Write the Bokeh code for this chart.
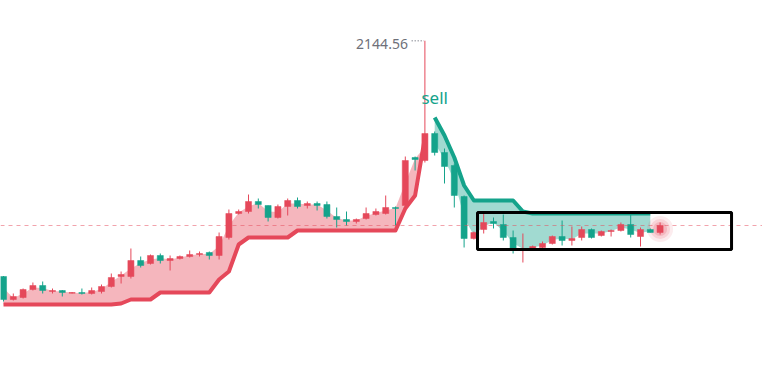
import numpy as np
from bokeh.plotting import figure
from bokeh.models import Range1d, Span, BoxAnnotation, Label
from bokeh.embed import file_html
from bokeh.resources import INLINE

# ---------------- data ----------------
opens = [1673, 1627, 1631, 1647, 1655, 1643, 1645, 1640, 1641, 1639,
         1643, 1653, 1673, 1673, 1705, 1699, 1715, 1705, 1709, 1713,
         1717, 1721, 1715, 1751, 1799, 1803, 1823, 1815, 1791, 1813,
         1825, 1815, 1819, 1817, 1793, 1787, 1783, 1789, 1797, 1799,
         1811, 1815, 1911, 1905, 1959, 1921, 1895, 1833, 1749, 1767,
         1783, 1777, 1751, 1727, 1729, 1731, 1739, 1753, 1745, 1751,
         1767, 1755, 1763, 1765, 1777, 1753, 1767, 1761]
highs = [1674, 1639, 1649, 1661, 1663, 1649, 1646, 1642, 1649, 1651,
         1657, 1679, 1683, 1729, 1713, 1717, 1719, 1715, 1715, 1725,
         1723, 1723, 1761, 1807, 1807, 1837, 1829, 1815, 1817, 1829,
         1831, 1823, 1823, 1823, 1811, 1803, 1789, 1811, 1809, 1835,
         1813, 1913, 1913, 2144.56, 1963, 1929, 1899, 1835, 1763, 1799,
         1791, 1797, 1765, 1759, 1735, 1743, 1755, 1785, 1773, 1773,
         1769, 1765, 1767, 1781, 1799, 1771, 1769, 1781]
lows = [1623, 1625, 1629, 1645, 1639, 1639, 1633, 1639, 1637, 1637,
        1639, 1651, 1659, 1669, 1691, 1697, 1699, 1685, 1707, 1711,
        1713, 1707, 1707, 1747, 1797, 1799, 1809, 1783, 1789, 1795,
        1809, 1809, 1805, 1789, 1771, 1775, 1779, 1787, 1795, 1797,
        1775, 1811, 1885, 1901, 1915, 1859, 1811, 1731, 1747, 1759,
        1769, 1745, 1719, 1701, 1727, 1729, 1737, 1735, 1735, 1745,
        1749, 1753, 1753, 1763, 1751, 1733, 1761, 1757]
closes = [1627, 1633, 1647, 1655, 1645, 1645, 1641, 1641, 1639, 1645,
          1653, 1671, 1677, 1705, 1695, 1715, 1705, 1709, 1713, 1717,
          1719, 1715, 1753, 1799, 1803, 1823, 1817, 1791, 1813, 1825,
          1813, 1819, 1815, 1793, 1787, 1783, 1787, 1799, 1803, 1811,
          1809, 1905, 1907, 1959, 1921, 1893, 1835, 1749, 1761, 1781,
          1779, 1751, 1729, 1729, 1733, 1739, 1753, 1745, 1749, 1767,
          1751, 1763, 1765, 1777, 1757, 1767, 1761, 1775]

# supertrend: uptrend (lower band) for bars 0..43, downtrend (upper band) for bars 44..66
st_up = [1617, 1617, 1617, 1617, 1617, 1617, 1617, 1617, 1617, 1617,
         1617, 1617, 1619, 1627, 1627, 1627, 1641, 1641, 1641, 1641,
         1641, 1641, 1667, 1683, 1737, 1751, 1751, 1751, 1751, 1751,
         1765, 1765, 1765, 1765, 1765, 1765, 1765, 1765, 1765, 1765,
         1765, 1809, 1835, 1951]
st_down = [1991, 1955, 1911, 1855, 1825, 1825, 1825, 1825, 1825, 1803,
           1799, 1799, 1799, 1799, 1799, 1799, 1799, 1799, 1799, 1799,
           1799, 1799, 1799]

peak_text = "2144.56"
signal_text = "sell"
last_price = 1775
# highlighted zone (bar index range and price range)
zone_left, zone_right, zone_top, zone_bottom = 48.37, 74.29, 1801, 1727

# ---------------- styling ----------------
RED = "#e5485a"
GREEN = "#14a38b"
FONT = "Noto Sans"

n = len(opens)
idx = np.arange(n)
o = np.array(opens, float)
c = np.array(closes, float)
h = np.array(highs, float)
l = np.array(lows, float)
mid = (o + c) / 2
up = c >= o
colors = [RED if u else GREEN for u in up]

p = figure(width=762, height=379, output_backend="svg", toolbar_location=None,
           x_axis_location=None, y_axis_location=None, min_border=0,
           x_range=Range1d(-3 / 9.8, (762 - 3) / 9.8),
           y_range=Range1d(1467, 2225))
p.grid.visible = False
p.outline_line_color = None
p.background_fill_color = "white"
p.border_fill_color = "white"

n_up = len(st_up)
x_up = idx[:n_up]
x_dn = idx[n_up:n_up + len(st_down)]

# fills between supertrend and candle body middle
p.varea(x=x_up, y1=st_up, y2=mid[:n_up], fill_color=RED, fill_alpha=0.4)
p.varea(x=x_dn, y1=st_down, y2=mid[n_up:n_up + len(st_down)], fill_color=GREEN, fill_alpha=0.4)

# supertrend lines
p.line(x_up, st_up, line_color=RED, line_width=4, line_join="round")
p.line(x_dn, st_down, line_color=GREEN, line_width=4, line_join="round")

# price line
p.add_layout(Span(location=last_price, dimension="width", line_color=RED,
                  line_alpha=0.5, line_dash="4 4", line_width=1))

# glow on last candle
p.scatter([idx[-1]], [mid[-1]], size=26, fill_color=RED, fill_alpha=0.10, line_color=None)
p.scatter([idx[-1]], [mid[-1]], size=20, fill_color=RED, fill_alpha=0.15, line_color=None)
p.scatter([idx[-1]], [mid[-1]], size=14, fill_color=RED, fill_alpha=0.2, line_color=None)

# candles
p.segment(x0=idx, y0=l, x1=idx, y1=h, line_color=colors, line_width=1)
top = np.maximum(o, c)
bot = np.minimum(o, c)
bot = np.where(top - bot < 1.5, top - 1.5, bot)
p.vbar(x=idx, width=0.62, top=top, bottom=bot, fill_color=colors, line_color=colors, line_width=0.5)

# peak annotation
pk = int(np.argmax(h))
p.segment(x0=[pk - 1.35], y0=[h[pk]], x1=[pk - 0.1], y1=[h[pk]],
          line_color="#8a8d96", line_width=1.5, line_dash="1 2")
p.add_layout(Label(x=pk, y=h[pk], x_offset=-17, y_offset=-3, text=peak_text,
                   text_align="right", text_baseline="middle", text_font=FONT,
                   text_font_size="14px", text_color="#6e7079"))

# sell signal label
p.add_layout(Label(x=x_dn[0], y=st_down[0], y_offset=20, text=signal_text,
                   text_align="center", text_baseline="middle", text_font=FONT,
                   text_font_size="17px", text_color=GREEN))

# highlight box
p.add_layout(BoxAnnotation(left=zone_left, right=zone_right, top=zone_top, bottom=zone_bottom,
                           fill_alpha=0, line_color="black", line_alpha=1.0, line_width=3))

open("out.html", "w").write(file_html(p, INLINE))
